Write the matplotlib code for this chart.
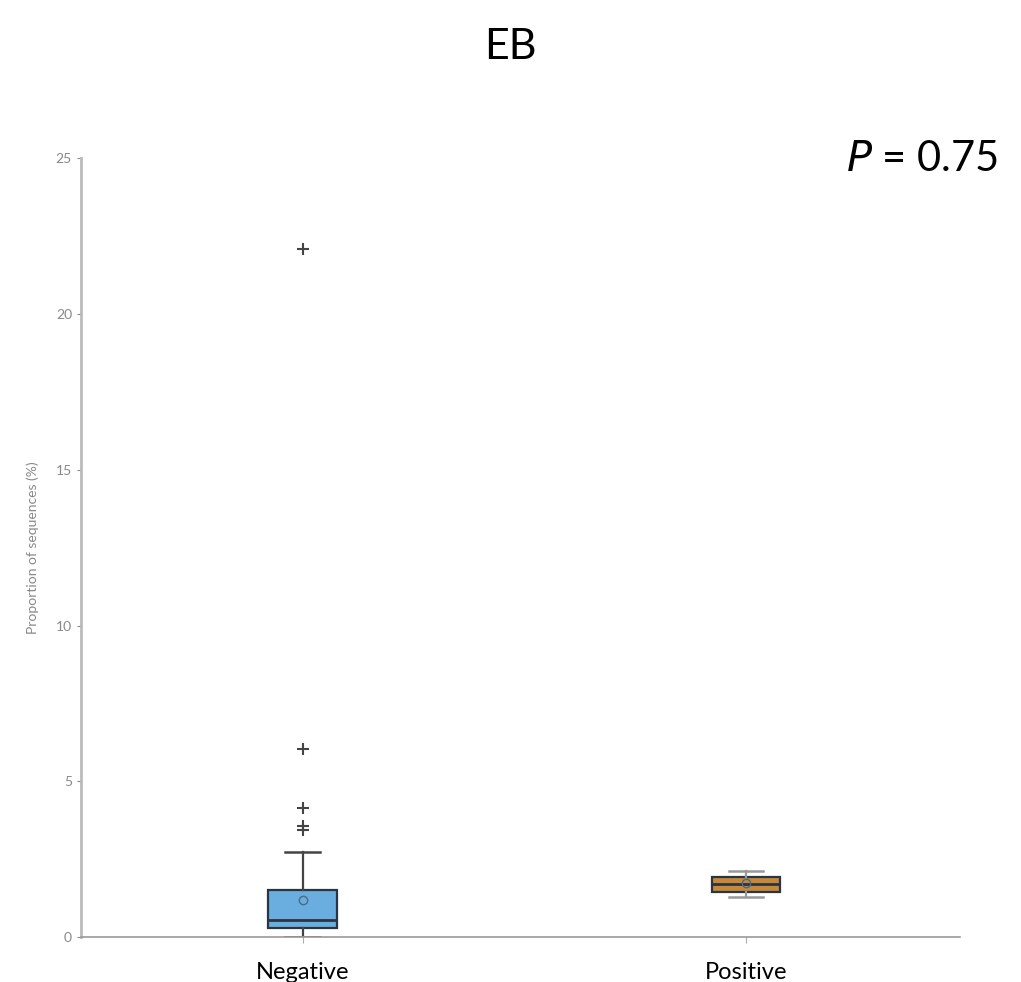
import matplotlib.pyplot as plt

# group labels and box summary stats
groups = ["Negative", "Positive"]
q1 = [0.29, 1.45]
median = [0.55, 1.70]
q3 = [1.51, 1.93]
whisker_low = [0.0, 1.30]
whisker_high = [2.73, 2.12]
means = [1.19, 1.72]
outliers = [[3.45, 3.55, 4.15, 6.05, 22.1], []]
box_colors = ["#6aaee0", "#c8883a"]

plt.rcParams['font.family'] = ['Lato', 'DejaVu Sans']

fig = plt.figure(figsize=(10.21, 9.82), dpi=100)
ax = fig.add_axes([0.0793, 0.0458, 0.861, 0.793])

stats = []
for i in range(len(groups)):
    stats.append({"label": groups[i], "q1": q1[i], "med": median[i], "q3": q3[i],
                  "whislo": whisker_low[i], "whishi": whisker_high[i],
                  "mean": means[i], "fliers": outliers[i]})

bp = ax.bxp(stats, positions=[1, 2], widths=0.155, patch_artist=True, showmeans=True,
            boxprops=dict(edgecolor="#2a3540", linewidth=1.6),
            medianprops=dict(color="#2a3540", linewidth=2),
            whiskerprops=dict(color="#444444", linewidth=1.6),
            capprops=dict(color="#444444", linewidth=1.8),
            meanprops=dict(marker="o", markerfacecolor="none", markeredgecolor="#4a6a88", markersize=6),
            flierprops=dict(marker="+", markeredgecolor="#444444", markersize=8, markeredgewidth=1.5))
for patch, c in zip(bp["boxes"], box_colors):
    patch.set_facecolor(c)
# the positive group's whiskers and caps look faded grey
for cap in bp["caps"][2:]:
    cap.set_color("#999999")
for w in bp["whiskers"][2:]:
    w.set_color("#999999")

ax.set_xlim(0.5, 2.483)
ax.set_ylim(0, 25)
ax.set_yticks([0, 5, 10, 15, 20, 25])
ax.tick_params(axis="y", labelsize=10, colors="#888888", length=3, width=0.8, direction="out")
ax.tick_params(axis="x", labelsize=17, labelcolor="black", colors="#aaaaaa", length=4, pad=14)
ax.set_xticks([1, 2])
ax.set_xticklabels(groups)
for side in ["top", "right"]:
    ax.spines[side].set_visible(False)
ax.spines["left"].set_color("#bbbbbb")
ax.spines["left"].set_linewidth(2)
ax.spines["bottom"].set_color("#999999")
ax.spines["bottom"].set_linewidth(1.2)
ax.set_ylabel("Proportion of sequences (%)", fontsize=10, color="#888888", labelpad=12)

fig.text(0.5, 0.952, "EB", ha="center", va="center", fontsize=31)
fig.text(0.978, 0.838, "$\\mathit{P}$ = 0.75", ha="right", va="center", fontsize=30)

plt.savefig("out.png", dpi=100)
